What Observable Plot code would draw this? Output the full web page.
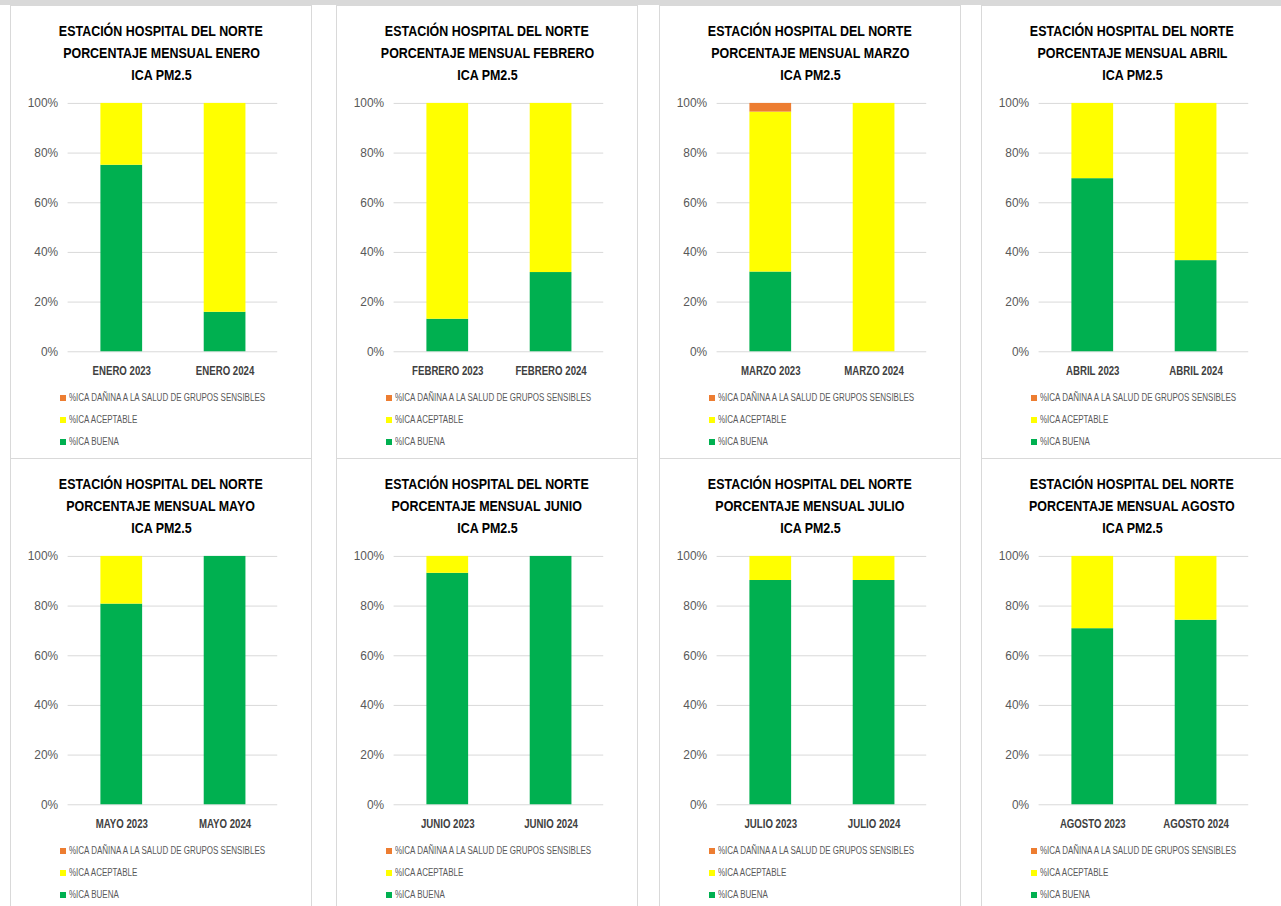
<!DOCTYPE html>
<html>
<head>
<meta charset="utf-8">
<script src="https://cdn.jsdelivr.net/npm/d3@7"></script>
<script src="https://cdn.jsdelivr.net/npm/@observablehq/plot@0.6"></script>
<style>
  html, body { margin: 0; padding: 0; background: #fff; width: 1281px; height: 906px; overflow: hidden; }
  body { position: relative; font-family: "Liberation Sans", Arial, sans-serif; }
  #topband { position: absolute; left: 0; top: 0; width: 1281px; height: 5px; background: #d9d9d9; }
  .panel { position: absolute; width: 302px; box-sizing: border-box; border: 1px solid #d9d9d9; background: #fff; overflow: hidden; }
  .title { position: absolute; left: 0; top: 14px; width: 100%; text-align: center; font-weight: bold; font-size: 15px; line-height: 22px; color: #000; }
  .title span { display: inline-block; transform: scaleX(0.83); transform-origin: center; white-space: nowrap; }
  .plotwrap { position: absolute; left: 0; top: 85px; }
  .legend { position: absolute; left: 49px; top: 381px; font-size: 10px; color: #595959; }
  .legend .item { height: 22px; line-height: 14px; display: flex; align-items: center; white-space: nowrap; }
  .legend .sw { width: 6px; height: 6px; margin-right: 3px; display: inline-block; flex: none; }
  .legend .txt { display: inline-block; transform: scaleX(0.8); transform-origin: left center; }
</style>
</head>
<body>
<div id="topband"></div>
<div id="root"></div>
<script>
// ---- data ----
const months = ["ENERO", "FEBRERO", "MARZO", "ABRIL", "MAYO", "JUNIO", "JULIO", "AGOSTO"];
const years = ["2023", "2024"];
const series = ["%ICA BUENA", "%ICA ACEPTABLE", "%ICA DAÑINA A LA SALUD DE GRUPOS SENSIBLES"];
const colors = ["#00B050", "#FFFF00", "#ED7D31"];
const legendOrder = ["%ICA DAÑINA A LA SALUD DE GRUPOS SENSIBLES", "%ICA ACEPTABLE", "%ICA BUENA"];
const yTicks = [0, 20, 40, 60, 80, 100];

const buena2023     = [75.1, 13.1, 32.1, 69.7, 80.8, 93.2, 90.3, 70.9];
const aceptable2023 = [24.9, 86.9, 64.4, 30.3, 19.2,  6.8,  9.7, 29.1];
const danina2023    = [ 0.0,  0.0,  3.5,  0.0,  0.0,  0.0,  0.0,  0.0];
const buena2024     = [15.9, 31.9,  0.0, 36.7, 100.0, 100.0, 90.3, 74.3];
const aceptable2024 = [84.1, 68.1, 100.0, 63.3,  0.0,  0.0,  9.7, 25.7];
const danina2024    = [ 0.0,  0.0,  0.0,  0.0,  0.0,  0.0,  0.0,  0.0];

const titleLine1 = "ESTACIÓN HOSPITAL DEL NORTE";
const titleLine2Prefix = "PORCENTAJE MENSUAL ";
const titleLine3 = "ICA PM2.5";

// ---- layout ----
const panelLefts = [10, 336, 659, 981];
const panelTops = [5, 458];
const panelHeights = [454, 460];

const byYear = {
  "2023": [buena2023, aceptable2023, danina2023],
  "2024": [buena2024, aceptable2024, danina2024]
};

const root = document.getElementById("root");
const FONT = '"Liberation Sans", Arial, sans-serif';

months.forEach((m, i) => {
  const col = i % 4, row = Math.floor(i / 4);
  const panel = document.createElement("div");
  panel.className = "panel";
  panel.style.left = panelLefts[col] + "px";
  panel.style.top = panelTops[row] + "px";
  panel.style.height = panelHeights[row] + "px";

  const title = document.createElement("div");
  title.className = "title";
  title.innerHTML = `<span>${titleLine1}</span><br><span>${titleLine2Prefix}${m}</span><br><span>${titleLine3}</span>`;
  panel.appendChild(title);

  const cats = years.map(y => `${m} ${y}`);
  const data = [];
  series.forEach((s, k) => {
    years.forEach((y, j) => {
      data.push({cat: cats[j], series: s, value: byYear[y][k][i]});
    });
  });

  const chart = Plot.plot({
    width: 302,
    height: 292,
    marginTop: 12,
    marginBottom: 30,
    marginLeft: 57,
    marginRight: 34,
    style: {fontFamily: FONT, background: "transparent", overflow: "visible"},
    x: {domain: cats, paddingInner: 0.6, paddingOuter: 0.305, label: null},
    y: {domain: [0, 100], label: null},
    color: {domain: series, range: colors},
    marks: [
      Plot.gridY(yTicks, {stroke: "#d9d9d9", strokeOpacity: 1, strokeWidth: 1}),
      Plot.barY(data, {x: "cat", y: "value", fill: "series", order: series}),
      Plot.axisX({tickSize: 0, tickPadding: 15, fontSize: 12, fontWeight: "bold", color: "#404040"}),
      Plot.axisY({ticks: yTicks, tickFormat: d => d + "%", tickSize: 0, tickPadding: 10, fontSize: 12, color: "#595959"})
    ]
  });
  const wrap = document.createElement("div");
  wrap.className = "plotwrap";
  wrap.appendChild(chart);
  panel.appendChild(wrap);

  const legend = document.createElement("div");
  legend.className = "legend";
  legendOrder.forEach(s => {
    const it = document.createElement("div");
    it.className = "item";
    const sw = document.createElement("span");
    sw.className = "sw";
    sw.style.background = colors[series.indexOf(s)];
    it.appendChild(sw);
    const tx = document.createElement("span");
    tx.className = "txt";
    tx.textContent = s;
    it.appendChild(tx);
    legend.appendChild(it);
  });
  panel.appendChild(legend);

  root.appendChild(panel);

  // condense the bold category labels (Calibri-like width)
  chart.querySelectorAll('g[aria-label="x-axis tick label"] text').forEach(t => {
    const w = t.getComputedTextLength();
    t.setAttribute("textLength", (w * 0.81).toFixed(1));
    t.setAttribute("lengthAdjust", "spacingAndGlyphs");
  });
});
</script>
</body>
</html>
